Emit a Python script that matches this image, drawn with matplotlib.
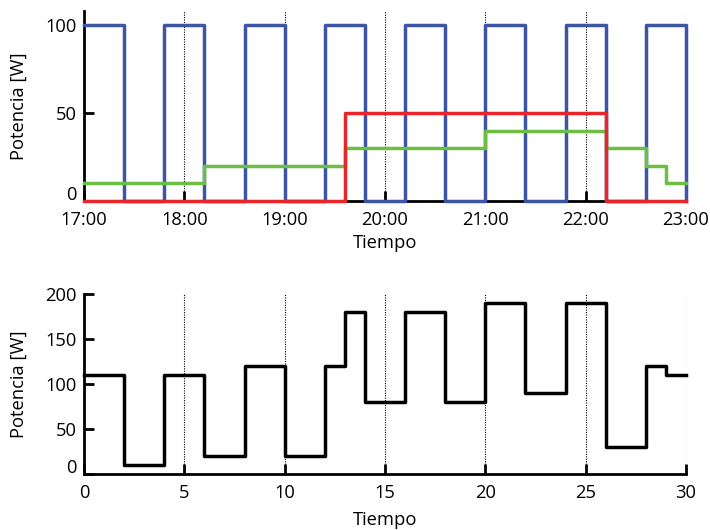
import matplotlib
matplotlib.use("Agg")
import matplotlib.pyplot as plt
import matplotlib.transforms as mtransforms

plt.rcParams['font.family'] = ['Open Sans', 'DejaVu Sans']

# Upper panel: power of three loads over the evening (hours)
blue_t = [17.0, 17.4, 17.8, 18.2, 18.6, 19.0, 19.4, 19.8, 20.2, 20.6, 21.0, 21.4, 21.8, 22.2, 22.6, 23.0]
blue_p = [100, 0, 100, 0, 100, 0, 100, 0, 100, 0, 100, 0, 100, 0, 100, 0]

green_t = [17.0, 18.2, 19.6, 21.0, 22.2, 22.6, 22.8, 23.0]
green_p = [10, 20, 30, 40, 30, 20, 10, 10]

red_t = [17.0, 19.6, 22.2, 23.0]
red_p = [0, 50, 0, 0]

hour_ticks = [17, 18, 19, 20, 21, 22, 23]
hour_labels = ["17:00", "18:00", "19:00", "20:00", "21:00", "22:00", "23:00"]

# Lower panel: total power per time slot
total_t = [0, 2, 4, 6, 8, 10, 12, 13, 14, 16, 18, 20, 22, 24, 26, 28, 29, 30]
total_p = [110, 10, 110, 20, 120, 20, 120, 180, 80, 180, 80, 190, 90, 190, 30, 120, 110, 110]

BLUE = "#3d55a5"
GREEN = "#6cbf44"
RED = "#e8252b"

fig = plt.figure(figsize=(7.1, 5.3), dpi=100)
ax1 = fig.add_axes([0.1183, 0.6208, 0.8479, 0.3585])
ax2 = fig.add_axes([0.1183, 0.1057, 0.8479, 0.3396])

FS = 13.2


def style(ax):
    for s in ("top", "right"):
        ax.spines[s].set_visible(False)
    for s in ("left", "bottom"):
        ax.spines[s].set_linewidth(2.0)
        ax.spines[s].set_zorder(1.5)
    ax.tick_params(direction="in", length=7, width=2.0, labelsize=FS)
    ax.tick_params(axis="x", pad=7)
    ax.tick_params(axis="y", pad=5)
    ax.grid(True, axis="x", linestyle=(0, (1, 1.2)), linewidth=0.8, color="black")
    ax.grid(False, axis="y")
    ax.set_axisbelow(True)


def lift_bottom_label(ax):
    # nudge the lowest y tick label upward so it clears the x labels
    fig.canvas.draw()
    lbl = ax.get_yticklabels()[0]
    lbl.set_transform(lbl.get_transform()
                      + mtransforms.ScaledTranslation(0, 6 / 72, fig.dpi_scale_trans))


# Upper panel
ax1.step(blue_t, blue_p, where="post", color=BLUE, lw=2.5, zorder=3, clip_on=False)
ax1.step(green_t, green_p, where="post", color=GREEN, lw=2.5, zorder=4, clip_on=False)
ax1.step(red_t, red_p, where="post", color=RED, lw=2.5, zorder=5, clip_on=False)
ax1.set_xlim(17, 23)
ax1.set_ylim(0, 108)
ax1.set_xticks(hour_ticks)
ax1.set_xticklabels(hour_labels)
ax1.set_yticks([0, 50, 100])
style(ax1)
ax1.set_xlabel("Tiempo", fontsize=FS, labelpad=4)
ax1.set_ylabel("Potencia [W]", fontsize=FS)
ax1.yaxis.set_label_coords(-0.093, 0.5)

# Lower panel
ax2.step(total_t, total_p, where="post", color="black", lw=2.5, zorder=3, clip_on=False)
ax2.set_xlim(0, 30)
ax2.set_ylim(0, 200)
ax2.set_xticks([0, 5, 10, 15, 20, 25, 30])
ax2.set_yticks([0, 50, 100, 150, 200])
style(ax2)
ax2.set_xlabel("Tiempo", fontsize=FS, labelpad=7)
ax2.set_ylabel("Potencia [W]", fontsize=FS)
ax2.yaxis.set_label_coords(-0.093, 0.5)

lift_bottom_label(ax1)
lift_bottom_label(ax2)

fig.savefig("out.png", dpi=100)
